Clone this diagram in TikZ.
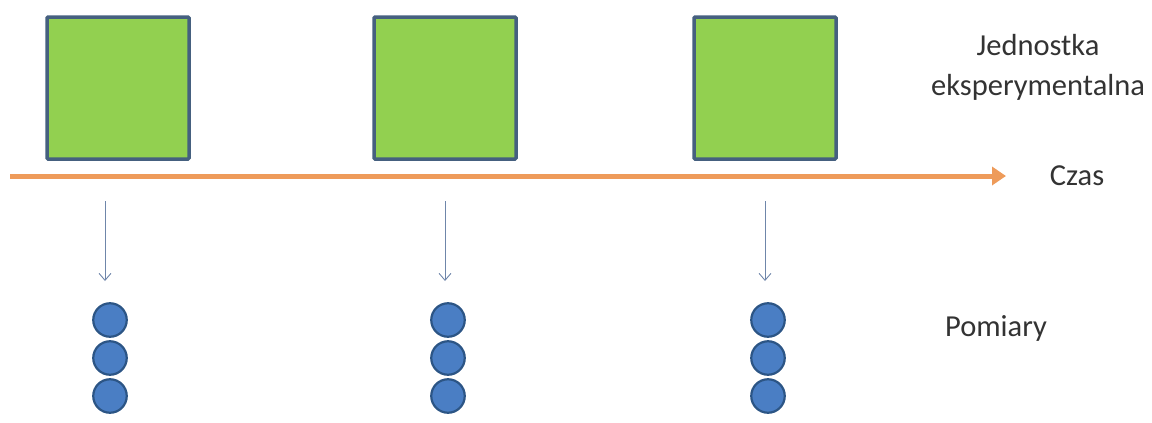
\documentclass[tikz,border=0pt]{standalone}
\usepackage{fontspec}
\setmainfont{Carlito}
\usetikzlibrary{arrows.meta}
\definecolor{unitfill}{HTML}{92D050}
\definecolor{unitedge}{HTML}{45607F}
\definecolor{timeline}{HTML}{EE9B5A}
\definecolor{probe}{HTML}{6F86AA}
\definecolor{dotfill}{HTML}{4A7EC4}
\definecolor{dotedge}{HTML}{2C5585}
\tikzset{
  unit/.style={draw=unitedge, line width=3.5pt, fill=unitfill, minimum width=142pt, minimum height=142pt, inner sep=0pt, rounded corners=1pt},
  dot/.style={circle, draw=dotedge, line width=2.2pt, fill=dotfill, minimum size=33.5pt, inner sep=0pt},
  probearrow/.style={draw=probe, line width=0.9pt, -{Straight Barb[length=7pt, width=12pt, line width=0.9pt]}},
  label/.style={font=\fontsize{30.5pt}{40pt}\selectfont, text=black!80, align=center}
}
\begin{document}
\begin{tikzpicture}[x=1pt, y=-1pt]
  \useasboundingbox (0,0) rectangle (1152,423);
  % experimental units
  \node[unit] (u1) at (118,88) {};
  \node[unit] (u2) at (445,88) {};
  \node[unit] (u3) at (765,88) {};
  % time axis
  \coordinate (t0) at (10,176);
  \coordinate (t1) at (1006,176);
  \draw[timeline, line width=5pt, -{Triangle[length=14pt, width=18pt]}] (t0) -- (t1);
  \node[label] (czas) at (1077,176) {Czas};
  % measurement points
  \foreach \i/\x/\xd in {1/105/110, 2/445/448, 3/765/768} {
    \node[dot] (m\i a) at (\xd,320) {};
    \node[dot] (m\i b) at (\xd,358) {};
    \node[dot] (m\i c) at (\xd,396) {};
    \coordinate (p\i) at (\x,201);
    \coordinate (q\i) at (\x,281);
    \draw[probearrow] (p\i) -- (q\i);
  }
  \node[label] (unitlbl) at (1038,67) {Jednostka\\eksperymentalna};
  \node[label] (pomiary) at (996,328) {Pomiary};
\end{tikzpicture}
\end{document}
